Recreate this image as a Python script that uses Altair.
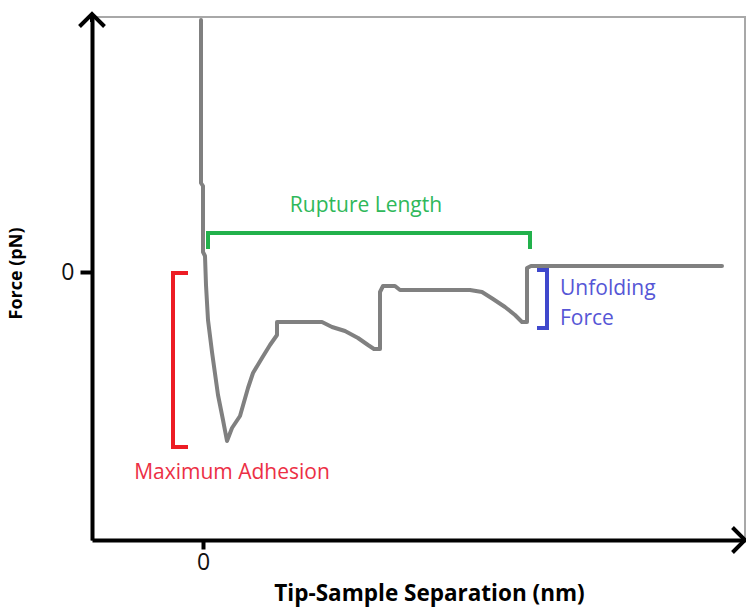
import altair as alt
import pandas as pd

# Force-separation retraction curve (nm, pN in arbitrary units)
sep = [-0.2, -0.2, 0.0, 0.0, 0.2, 0.3, 0.5, 0.9, 1.5, 2.0, 2.4, 2.9, 3.7, 4.5, 5.0,
       5.9, 6.7, 7.4, 7.4, 11.9, 12.9, 14.2, 15.5, 16.5, 17.1, 17.7, 17.7, 18.0,
       19.2, 19.7, 26.7, 27.9, 29.0, 30.2, 31.2, 31.9, 32.4, 32.4, 32.8, 51.9]
force = [25.2, 8.9, 8.6, 2.0, 1.6, -1.3, -4.8, -8.0, -12.3, -14.8, -16.9, -15.6,
         -14.4, -11.6, -10.1, -8.6, -7.3, -6.3, -5.0, -5.0, -5.5, -5.9, -6.6, -7.3,
         -7.7, -7.7, -2.0, -1.4, -1.4, -1.8, -1.8, -2.0, -2.7, -3.5, -4.3, -5.0,
         -5.0, 0.4, 0.6, 0.6]

# Annotation brackets
rupture_x = [0.5, 0.5, 32.7, 32.7]
rupture_y = [2.3, 3.9, 3.9, 2.3]
adhesion_x = [-1.5, -3.0, -3.0, -1.5]
adhesion_y = [-0.1, -0.1, -17.5, -17.5]
unfold_x = [33.4, 34.4, 34.4, 33.4]
unfold_y = [0.2, 0.2, -5.6, -5.6]

labels = ["Rupture Length", "Maximum Adhesion", "Unfolding", "Force"]
label_x = [16.3, 2.9, 35.7, 35.7]
label_y = [6.6, -20.1, -1.7, -4.7]
label_align = ["center", "center", "left", "left"]
label_color = ["#2fb85a", "#ec2f45", "#5656d6", "#5656d6"]

x_dom = [-11.1, 54.2]
y_dom = [-26.8, 25.5]
arrow = 1.25
FONT = "Open Sans"
FS = 21

W, H = 653, 523

xs = alt.Scale(domain=x_dom, nice=False, zero=False)
ys = alt.Scale(domain=y_dom, nice=False, zero=False)

X = alt.X("x:Q", scale=xs, title="Tip-Sample Separation (nm)",
          axis=alt.Axis(values=[0], grid=False, domainColor="black", domainWidth=4,
                        tickColor="black", tickWidth=4, tickSize=9,
                        labelFont=FONT, labelFontSize=23, labelColor="#111",
                        labelPadding=2,
                        titleFont=FONT, titleFontSize=22.5, titleFontWeight="bold",
                        titleColor="black", titleX=429 - 92, titleY=53,
                        titleBaseline="middle", titleAlign="center"))
Y = alt.Y("y:Q", scale=ys, title="Force (pN)",
          axis=alt.Axis(values=[0], grid=False, domainColor="black", domainWidth=4,
                        tickColor="black", tickWidth=4, tickSize=12,
                        labelFont=FONT, labelFontSize=23, labelColor="#111",
                        labelPadding=6,
                        titleFont=FONT, titleFontSize=18, titleFontWeight="bold",
                        titleColor="black", titleAngle=-90, titleX=-76,
                        titleY=256, titleBaseline="middle", titleAlign="center"))


def path(xv, yv):
    return pd.DataFrame({"x": xv, "y": yv, "i": range(len(xv))})


def line(df, color, width, join="miter", cap="butt"):
    return alt.Chart(df).mark_line(
        color=color, strokeWidth=width, strokeJoin=join, strokeCap=cap, clip=False
    ).encode(x=X, y=Y, order="i:Q")


curve = line(path(sep, force), "#808080", 4, "round", "round")

up_head = line(path([x_dom[0] - arrow, x_dom[0], x_dom[0] + arrow],
                    [y_dom[1] - arrow + 0.3, y_dom[1] + 0.3, y_dom[1] - arrow + 0.3]),
               "black", 4)
up_stem = line(path([x_dom[0], x_dom[0]], [y_dom[1] - 0.5, y_dom[1] + 0.3]), "black", 4)
right_head = line(path([x_dom[1] - arrow, x_dom[1], x_dom[1] - arrow],
                       [y_dom[0] + arrow, y_dom[0], y_dom[0] - arrow]), "black", 4)

brackets = (
    line(path(rupture_x, rupture_y), "#22b14c", 4)
    + line(path(adhesion_x, adhesion_y), "#ed1c24", 4)
    + line(path(unfold_x, unfold_y), "#3f48cc", 4)
)

text_df = pd.DataFrame({"label": labels, "x": label_x, "y": label_y})
texts = [
    alt.Chart(text_df.iloc[[k]]).mark_text(
        font=FONT, fontSize=FS, align=label_align[k], baseline="middle",
        color=label_color[k]
    ).encode(x=X, y=Y, text="label:N")
    for k in range(len(labels))
]

chart = alt.layer(curve, brackets, *texts, up_stem, up_head, right_head).properties(
    width=W, height=H,
    autosize=alt.AutoSizeParams(type="none"),
    padding={"left": 92, "top": 17, "right": 1, "bottom": 68},
    background="white",
).configure_view(stroke="#a8a8a8", strokeWidth=2)

chart.save("out.html", embed_options={"renderer": "svg", "actions": False})
